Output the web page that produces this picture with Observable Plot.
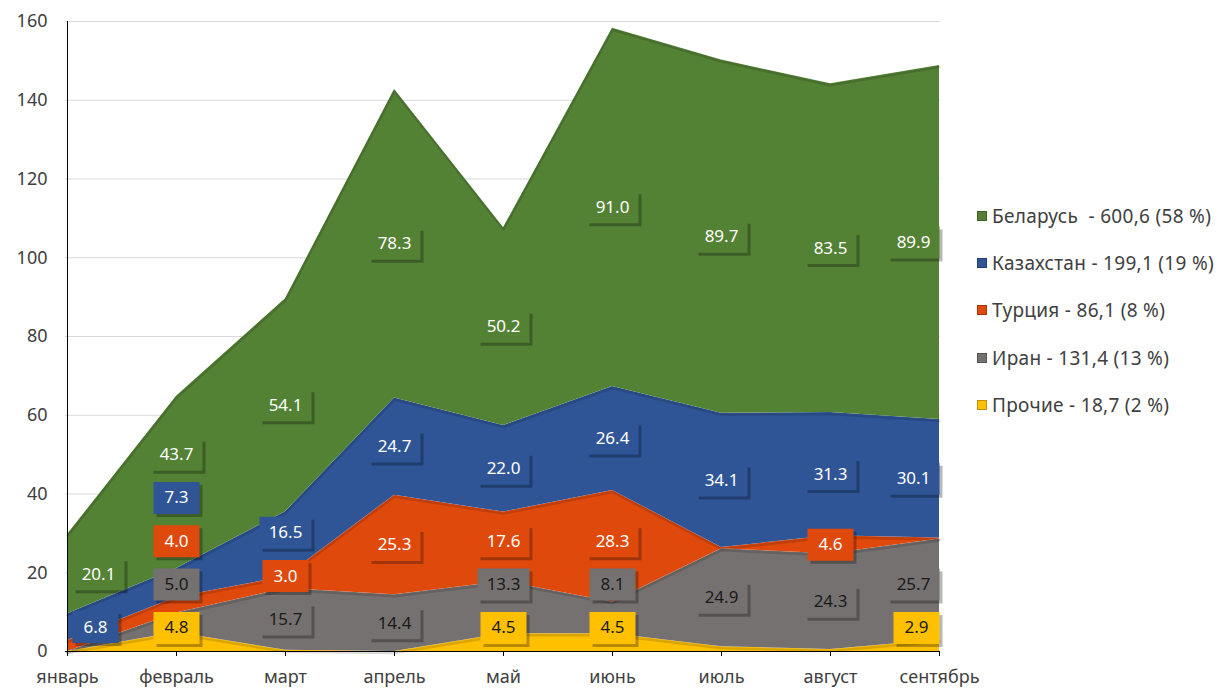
<!DOCTYPE html>
<html>
<head>
<meta charset="utf-8">
<script src="https://cdn.jsdelivr.net/npm/d3@7"></script>
<script src="https://cdn.jsdelivr.net/npm/@observablehq/plot@0.6"></script>
<style>
  body { margin: 0; background: #fff; font-family: "Noto Sans", sans-serif; }
  #wrap { position: relative; width: 1229px; height: 691px; overflow: hidden; }
  #chart { position: absolute; left: 0; top: 0; }
  #legend { position: absolute; left: 977px; top: 192px; color: #404040; font-size: 19px; letter-spacing: 0.3px; }
  .item { height: 47.3px; display: flex; align-items: center; white-space: pre; }
  .sw { width: 10px; height: 10px; margin-right: 5px; box-shadow: inset 0 0 0 1px rgba(0,0,0,0.25); }
</style>
</head>
<body>
<div id="wrap"><div id="chart"></div><div id="legend"></div></div>
<script>
const months = ["январь","февраль","март","апрель","май","июнь","июль","август","сентябрь"];
const seriesNames = ["Прочие","Иран","Турция","Казахстан","Беларусь"];
const seriesColors = ["#FFC000","#767171","#E0490C","#2F5597","#548235"];
const others     = [0,    4.8,  0.3, 0,    4.5,  4.5,  1.2,  0.5,  2.9];
const iran       = [0,    5.0, 15.7, 14.4, 13.3,  8.1, 24.9, 24.3, 25.7];
const turkey     = [2.8,  4.0,  3.0, 25.3, 17.6, 28.3,  0.3,  4.6,  0.2];
const kazakhstan = [6.8,  7.3, 16.5, 24.7, 22.0, 26.4, 34.1, 31.3, 30.1];
const belarus    = [20.1, 43.7, 54.1, 78.3, 50.2, 91.0, 89.7, 83.5, 89.9];
const legendLabels = [
  "Беларусь  - 600,6 (58 %)",
  "Казахстан - 199,1 (19 %)",
  "Турция - 86,1 (8 %)",
  "Иран - 131,4 (13 %)",
  "Прочие - 18,7 (2 %)"
];
const legendOrder = ["Беларусь","Казахстан","Турция","Иран","Прочие"];
const yTicks = [0, 20, 40, 60, 80, 100, 120, 140, 160];

const seriesValues = [others, iran, turkey, kazakhstan, belarus];
const darkText = new Set(["Прочие","Иран"]);

// long table for the stacked areas
const rows = [];
seriesNames.forEach((s, k) => months.forEach((m, i) => rows.push({month: m, series: s, value: seriesValues[k][i]})));

// labels: centred in their layer, pushed up to avoid overlap
const labelMin = 2.85, gap = 11, minY = 6;
const labels = [];
months.forEach((m, i) => {
  let cum = 0, prev = -Infinity;
  seriesNames.forEach((s, k) => {
    const v = seriesValues[k][i];
    const mid = cum + v / 2;
    cum += v;
    if (v >= labelMin) {
      const y = Math.max(mid, prev + gap, minY);
      prev = y;
      labels.push({month: m, idx: i, series: s, value: v, y, text: v.toFixed(1)});
    }
  });
});

const box = (w, h) => ({
  draw(ctx) {
    ctx.moveTo(-w / 2, -h / 2); ctx.lineTo(w / 2, -h / 2);
    ctx.lineTo(w / 2, h / 2); ctx.lineTo(-w / 2, h / 2); ctx.closePath();
  }
});

// labels at the ends of the axis are kept inside the plotting area
const boxH = 32;
const labelMarks = [];
const posGroups = [
  {test: d => d.idx === 0, shift: w => 5 + w / 2},
  {test: d => d.idx > 0 && d.idx < months.length - 1, shift: () => 0},
  {test: d => d.idx === months.length - 1, shift: w => -w / 2}
];
const sizeGroups = [
  {test: d => d.text.length <= 3, w: 46},
  {test: d => d.text.length > 3, w: 52}
];
for (const pg of posGroups) {
  for (const sg of sizeGroups) {
    const data = labels.filter(d => pg.test(d) && sg.test(d));
    const dx = pg.shift(sg.w);
    labelMarks.push(
      Plot.dot(data, {x: "month", y: "y", symbol: box(sg.w, boxH), r: 1, fill: "#000", fillOpacity: 0.28, dx: dx + 3, dy: 3}),
      Plot.dot(data, {x: "month", y: "y", symbol: box(sg.w, boxH), r: 1, fill: "series", dx}),
      Plot.text(data.filter(d => !darkText.has(d.series)), {x: "month", y: "y", text: "text", fill: "white", fontSize: 17, dx}),
      Plot.text(data.filter(d => darkText.has(d.series)), {x: "month", y: "y", text: "text", fill: "#1a1a1a", fontSize: 17, dx})
    );
  }
}

const chart = Plot.plot({
  width: 1000,
  height: 691,
  marginLeft: 65,
  marginRight: 60,
  marginTop: 21,
  marginBottom: 40,
  style: {fontFamily: "'Noto Sans', sans-serif", fontSize: "18px", color: "#404040", background: "transparent"},
  x: {type: "point", domain: months, padding: 0, label: null},
  y: {domain: [0, 160], label: null},
  color: {domain: seriesNames, range: seriesColors},
  marks: [
    Plot.gridY(yTicks, {stroke: "#d9d9d9", strokeOpacity: 1}),
    Plot.areaY(rows, Plot.stackY({x: "month", y: "value", fill: "series", order: seriesNames, curve: "linear"})),
    Plot.lineY(rows, Plot.stackY2({x: "month", y: "value", z: "series", order: seriesNames, stroke: "#000", strokeOpacity: 0.14, strokeWidth: 2.5, dy: 1.5})),
    Plot.ruleY([0], {stroke: "#000"}),
    Plot.ruleX([months[0]], {stroke: "#000"}),
    Plot.axisY({ticks: yTicks, tickSize: 0, tickPadding: 18, fontSize: 18, fill: "#404040"}),
    Plot.axisX({tickSize: 5, tickPadding: 14, fontSize: 18, fill: "#404040", stroke: "#000"}),
    ...labelMarks
  ]
});
document.getElementById("chart").appendChild(chart);

const legend = document.getElementById("legend");
legendOrder.forEach((s, i) => {
  const item = document.createElement("div");
  item.className = "item";
  const sw = document.createElement("span");
  sw.className = "sw";
  sw.style.background = seriesColors[seriesNames.indexOf(s)];
  item.appendChild(sw);
  const t = document.createElement("span");
  t.textContent = legendLabels[i];
  item.appendChild(t);
  legend.appendChild(item);
});
</script>
</body>
</html>
